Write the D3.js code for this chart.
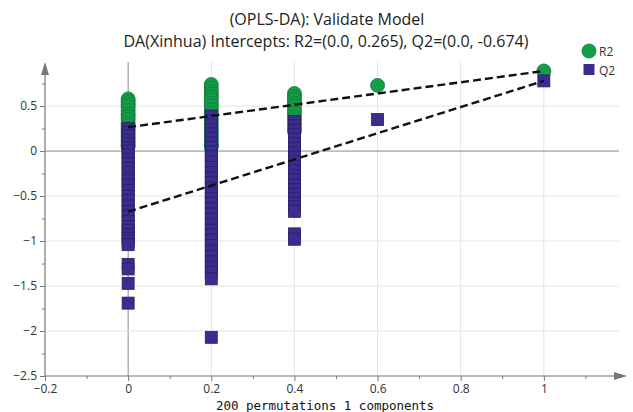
<!DOCTYPE html>
<html>
<head>
<meta charset="utf-8">
<script src="https://cdn.jsdelivr.net/npm/d3@7"></script>
<style>
  body { margin: 0; background: #fff; }
  text { font-family: "Open Sans", "Noto Sans", sans-serif; }
</style>
</head>
<body>
<div id="chart"></div>
<script>
// permutation groups (correlation of permuted Y with original Y)
var groupX = [0, 0.2, 0.4, 0.6, 1];

var r2Values = [
  [0.58, 0.55, 0.52, 0.49, 0.45, 0.41, 0.38, 0.35, 0.31, 0.28, 0.25, 0.22, 0.19, 0.16, 0.13, 0.10, 0.07, 0.05],
  [0.74, 0.70, 0.66, 0.63, 0.60, 0.57, 0.53, 0.50, 0.46, 0.42, 0.38, 0.34, 0.30, 0.26, 0.22, 0.18, 0.14, 0.10, 0.07, 0.05],
  [0.64, 0.60, 0.57, 0.53, 0.50, 0.46, 0.42, 0.38, 0.34, 0.30, 0.26, 0.22],
  [0.73],
  [0.89]
];

var q2Values = [
  [0.25, 0.21, 0.17, 0.12, 0.08, 0.04, 0.00, -0.04, -0.09, -0.14, -0.19, -0.24, -0.30, -0.33, -0.38, -0.44,
   -0.50, -0.55, -0.61, -0.67, -0.72, -0.78, -0.84, -0.88, -0.93, -0.97, -1.00, -1.04, -1.26, -1.31, -1.47, -1.69],
  [0.39, 0.34, 0.29, 0.24, 0.19, 0.14, 0.09, 0.04, -0.01, -0.06, -0.12, -0.18, -0.24, -0.30, -0.35, -0.41, -0.47,
   -0.53, -0.58, -0.64, -0.70, -0.76, -0.82, -0.88, -0.93, -0.99, -1.05, -1.11, -1.17, -1.23, -1.29, -1.35, -1.42, -2.07],
  [0.33, 0.28, 0.23, 0.18, 0.13, 0.08, 0.03, -0.02, -0.07, -0.12, -0.17, -0.22, -0.27, -0.32, -0.38, -0.43,
   -0.48, -0.53, -0.58, -0.62, -0.67, -0.92, -0.98],
  [0.35],
  [0.78]
];

var r2Intercept = 0.265, q2Intercept = -0.674;
var xTicks = [-0.2, 0, 0.2, 0.4, 0.6, 0.8, 1];
var yTicks = [-2.5, -2, -1.5, -1, -0.5, 0, 0.5];

var width = 633, height = 412;
var green = "#139e49", purple = "#3b2c8d";

var svg = d3.select("#chart").append("svg")
  .attr("width", width)
  .attr("height", height);

var x = d3.scaleLinear().domain([-0.2, 1.2]).range([45, 627]);
var y = d3.scaleLinear().domain([-2.5, 0.99]).range([376, 62]);

// grid
var grid = svg.append("g");
grid.selectAll(".vg").data(xTicks.filter(d => d > -0.2)).enter().append("line")
  .attr("x1", d => x(d)).attr("x2", d => x(d))
  .attr("y1", y(0.99)).attr("y2", y(-2.5))
  .attr("stroke", d => d === 0 ? "#8a8a8a" : "#e4e4e4")
  .attr("stroke-width", 1);
grid.selectAll(".hg").data(yTicks.filter(d => d > -2.5)).enter().append("line")
  .attr("x1", x(-0.2)).attr("x2", x(1.2) - 8)
  .attr("y1", d => y(d)).attr("y2", d => y(d))
  .attr("stroke", d => d === 0 ? "#8a8a8a" : "#e4e4e4")
  .attr("stroke-width", 1);

// x axis
var xAxis = svg.append("g")
  .attr("transform", "translate(0," + y(-2.5) + ")")
  .call(d3.axisBottom(x).tickValues(xTicks).tickSize(5).tickPadding(3).tickFormat(d3.format("")));
var xMinor = svg.append("g")
  .attr("transform", "translate(0," + y(-2.5) + ")")
  .call(d3.axisBottom(x).tickValues([-0.1, 0.1, 0.3, 0.5, 0.7, 0.9, 1.1]).tickSize(3).tickFormat(""));

// y axis
var yAxis = svg.append("g")
  .attr("transform", "translate(" + x(-0.2) + ",0)")
  .call(d3.axisLeft(y).tickValues(yTicks).tickSize(5).tickPadding(3).tickFormat(d3.format("")));
var yMinor = svg.append("g")
  .attr("transform", "translate(" + x(-0.2) + ",0)")
  .call(d3.axisLeft(y).tickValues([-2.25, -1.75, -1.25, -0.75, -0.25, 0.25, 0.75]).tickSize(3).tickFormat(""));

[xAxis, xMinor, yAxis, yMinor].forEach(g => {
  g.select(".domain").remove();
  g.selectAll("line").attr("stroke", "#777");
  g.selectAll("text").attr("fill", "#333").style("font-size", "12px")
    .style("font-family", "'Open Sans', 'Noto Sans', sans-serif");
});

// axis lines with arrows
svg.append("line")
  .attr("x1", x(-0.2)).attr("x2", x(1.2) - 6)
  .attr("y1", y(-2.5)).attr("y2", y(-2.5))
  .attr("stroke", "#777").attr("stroke-width", 1.2);
svg.append("path")
  .attr("d", "M" + x(1.2) + "," + y(-2.5) + "l-13,-4l0,8z")
  .attr("fill", "#777");
svg.append("line")
  .attr("x1", x(-0.2)).attr("x2", x(-0.2))
  .attr("y1", y(-2.5)).attr("y2", y(0.99) + 6)
  .attr("stroke", "#777").attr("stroke-width", 1.2);
svg.append("path")
  .attr("d", "M" + x(-0.2) + "," + y(0.99) + "l-4,13l8,0z")
  .attr("fill", "#777");

// flatten points
var r2Points = [], q2Points = [];
groupX.forEach((gx, i) => {
  r2Values[i].forEach(v => r2Points.push({x: gx, v: v}));
  q2Values[i].forEach(v => q2Points.push({x: gx, v: v}));
});

svg.append("g").selectAll("circle").data(r2Points).enter().append("circle")
  .attr("cx", d => x(d.x)).attr("cy", d => y(d.v))
  .attr("r", 7)
  .attr("fill", green).attr("stroke", "#0f7a38").attr("stroke-width", 0.8);

var sq = 12;
svg.append("g").selectAll("rect").data(q2Points).enter().append("rect")
  .attr("x", d => x(d.x) - sq / 2).attr("y", d => y(d.v) - sq / 2)
  .attr("width", sq).attr("height", sq)
  .attr("fill", purple).attr("stroke", "#2a1e6a").attr("stroke-width", 0.8);

// intercept regression lines
var r2Orig = r2Values[4][0], q2Orig = q2Values[4][0];
var line = d3.line().x(d => x(d[0])).y(d => y(d[1]));
svg.append("path")
  .attr("d", line([[0, r2Intercept], [1, r2Orig]]))
  .attr("stroke", "#111").attr("stroke-width", 2.4).attr("stroke-dasharray", "8,4").attr("fill", "none");
svg.append("path")
  .attr("d", line([[0, q2Intercept], [1, q2Orig]]))
  .attr("stroke", "#111").attr("stroke-width", 2.4).attr("stroke-dasharray", "8,4").attr("fill", "none");

// titles
svg.append("text").attr("x", 327).attr("y", 25)
  .attr("text-anchor", "middle").attr("fill", "#222").style("font-size", "16px")
  .text("(OPLS-DA): Validate Model");
svg.append("text").attr("x", 326).attr("y", 47)
  .attr("text-anchor", "middle").attr("fill", "#222").style("font-size", "16px")
  .text("DA(Xinhua) Intercepts: R2=(0.0, " + r2Intercept + "), Q2=(0.0, " + q2Intercept + ")");

svg.append("text").attr("x", 325).attr("y", 410)
  .attr("text-anchor", "middle").attr("fill", "#111")
  .style("font-family", "'DejaVu Sans Mono', monospace").style("font-size", "12.5px")
  .text("200 permutations 1 components");

// legend
var legend = svg.append("g");
legend.append("circle").attr("cx", 589).attr("cy", 51).attr("r", 7)
  .attr("fill", green).attr("stroke", "#0f7a38").attr("stroke-width", 0.8);
legend.append("text").attr("x", 599).attr("y", 55.5).attr("fill", "#333").style("font-size", "12px").text("R2");
legend.append("rect").attr("x", 583.5).attr("y", 64).attr("width", 11).attr("height", 11)
  .attr("fill", purple);
legend.append("text").attr("x", 599).attr("y", 74.5).attr("fill", "#333").style("font-size", "12px").text("Q2");
</script>
</body>
</html>
